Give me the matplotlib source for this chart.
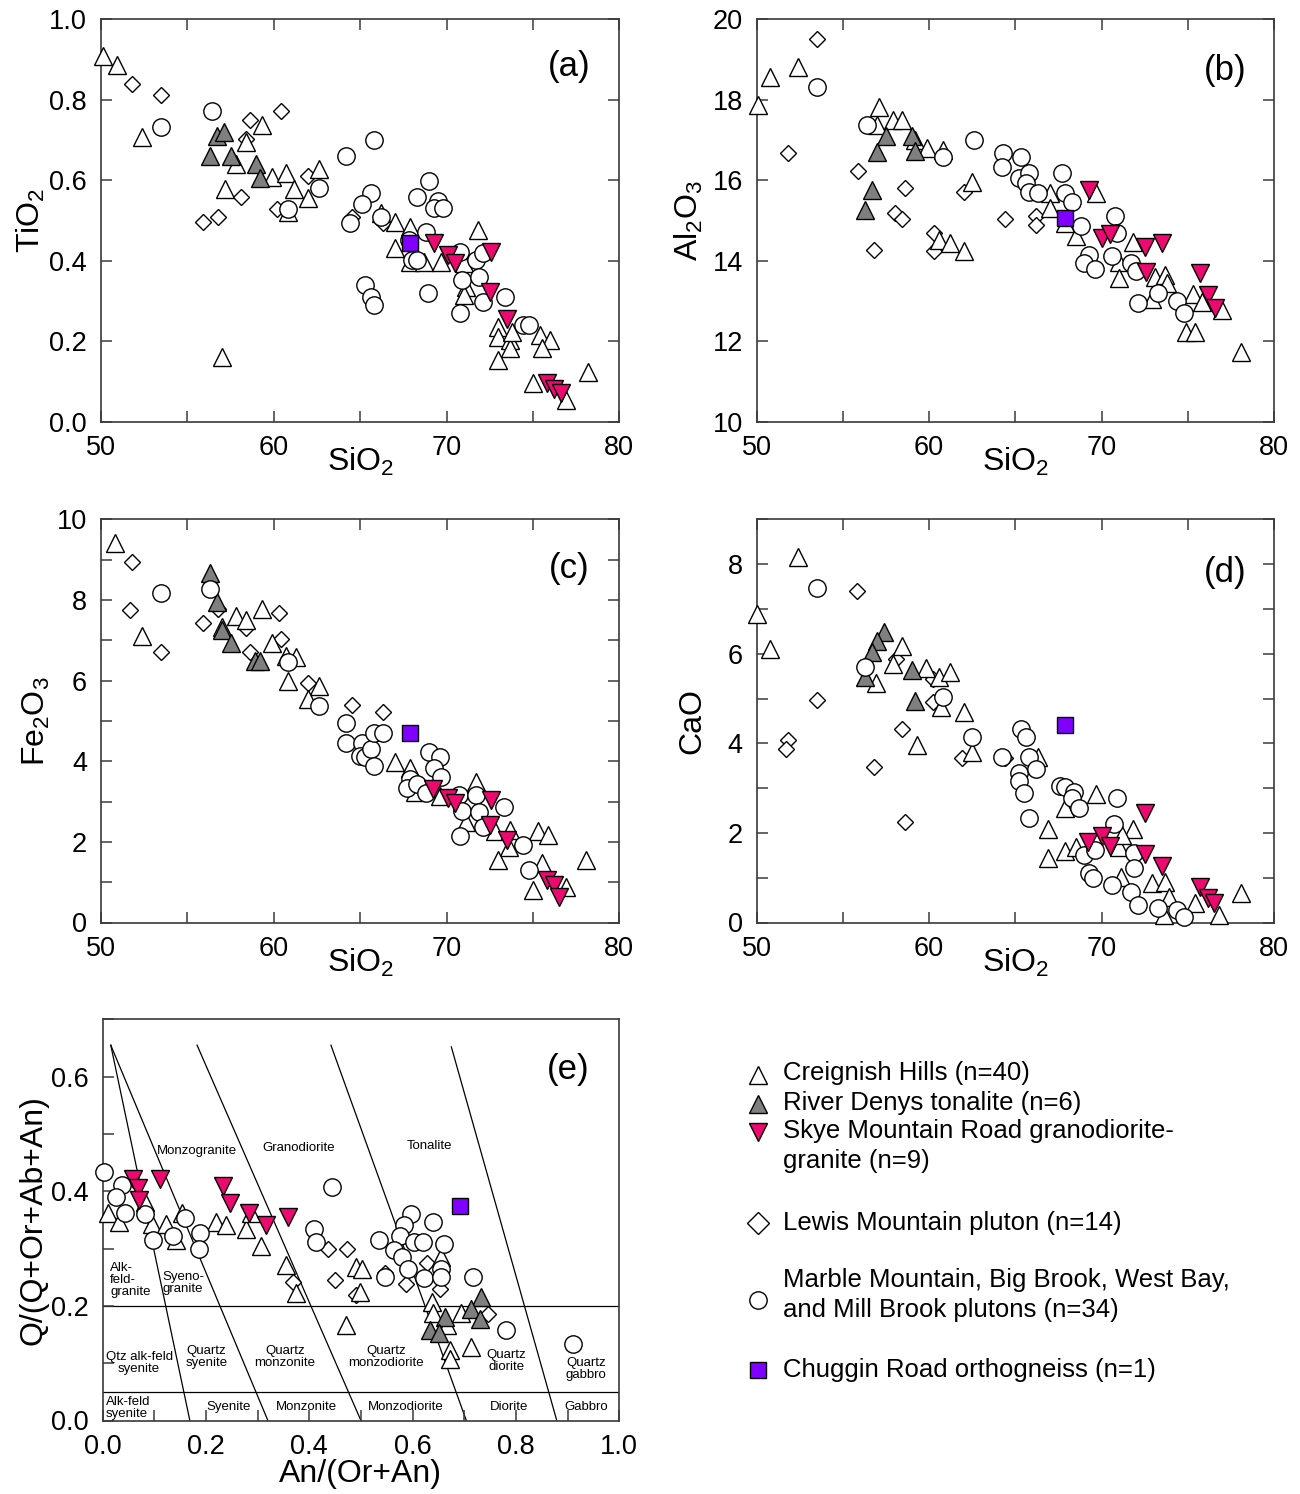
import matplotlib
matplotlib.use('Agg')
import matplotlib.pyplot as plt
from matplotlib.ticker import MultipleLocator, FuncFormatter

plt.rcParams['font.family'] = ['Liberation Sans', 'DejaVu Sans']
plt.rcParams['mathtext.default'] = 'regular'

# ---------------- data: panel (a) SiO2 vs TiO2 ----------------
a_ch_x = [50.1, 50.9, 52.4, 59.3, 58.4, 57.8, 59.9, 60.7, 62.6, 57.2, 61.2, 62.0, 60.8, 57.0, 66.2, 67.0, 67.9,
          67.0, 67.9, 68.7, 69.7, 71.8, 71.0, 71.1, 71.0, 73.0, 73.0, 73.7, 73.7, 73.0, 73.8, 75.4, 76.0, 75.5,
          75.0, 76.9, 78.2]
a_ch_y = [0.908, 0.887, 0.707, 0.738, 0.696, 0.640, 0.609, 0.617, 0.627, 0.578, 0.578, 0.555, 0.522, 0.161, 0.518,
          0.497, 0.484, 0.431, 0.397, 0.397, 0.397, 0.476, 0.393, 0.335, 0.314, 0.236, 0.211, 0.202, 0.182, 0.153,
          0.223, 0.215, 0.202, 0.182, 0.095, 0.053, 0.124]
a_rd_x = [56.7, 57.1, 56.3, 57.5, 59.0, 59.2]
a_rd_y = [0.709, 0.719, 0.659, 0.659, 0.641, 0.605]
a_sk_x = [69.3, 70.1, 70.5, 72.6, 72.5, 73.5, 75.8, 76.2, 76.6]
a_sk_y = [0.443, 0.414, 0.393, 0.422, 0.323, 0.254, 0.095, 0.082, 0.070]
a_lm_x = [51.8, 53.5, 58.6, 60.4, 58.4, 58.1, 55.9, 56.8, 60.2, 62.0, 64.5, 66.3]
a_lm_y = [0.840, 0.811, 0.750, 0.773, 0.702, 0.558, 0.497, 0.508, 0.528, 0.611, 0.509, 0.493]
a_mm_x = [56.4, 53.5, 62.6, 60.8, 64.2, 65.8, 65.6, 65.1, 64.4, 66.2, 69.0, 68.3, 69.5, 69.3, 69.8, 68.8, 67.8,
          68.0, 68.3, 65.3, 65.6, 65.8, 68.9, 70.8, 71.7, 72.1, 70.9, 71.9, 72.1, 73.4, 70.8, 74.4, 74.8]
a_mm_y = [0.771, 0.732, 0.580, 0.528, 0.659, 0.700, 0.569, 0.541, 0.493, 0.508, 0.599, 0.559, 0.549, 0.530, 0.530,
          0.472, 0.451, 0.402, 0.402, 0.339, 0.310, 0.290, 0.319, 0.422, 0.402, 0.418, 0.352, 0.360, 0.298, 0.309,
          0.269, 0.240, 0.240]
a_cr_x = [67.9]
a_cr_y = [0.443]

# ---------------- data: panel (b) SiO2 vs Al2O3 ----------------
b_ch_x = [50.1, 50.8, 52.4, 57.1, 57.0, 57.9, 58.4, 59.2, 59.9, 60.8, 62.5, 60.6, 61.2, 62.0, 67.0, 67.0, 67.9,
          68.5, 69.7, 71.8, 71.0, 71.0, 73.1, 73.7, 73.8, 72.9, 75.3, 75.8, 77.0, 74.9, 75.4, 78.1]
b_ch_y = [17.87, 18.56, 18.81, 17.81, 17.37, 17.50, 17.50, 17.00, 16.79, 16.75, 15.96, 14.51, 14.45, 14.24, 15.69,
          15.30, 14.93, 14.61, 15.69, 14.47, 13.97, 13.56, 13.60, 13.64, 13.45, 13.04, 13.18, 12.98, 12.77, 12.23,
          12.23, 11.73]
b_rd_x = [57.5, 59.0, 57.0, 59.2, 56.7, 56.3]
b_rd_y = [17.10, 17.10, 16.71, 16.73, 15.75, 15.27]
b_sk_x = [69.3, 70.0, 70.5, 72.5, 73.5, 72.6, 75.7, 76.2, 76.6]
b_sk_y = [15.75, 14.55, 14.66, 14.33, 14.44, 13.72, 13.68, 13.14, 12.81]
b_lm_x = [53.5, 51.8, 55.9, 58.6, 58.0, 58.4, 56.8, 62.0, 60.3, 60.3, 64.4, 66.2, 66.2]
b_lm_y = [19.50, 16.67, 16.23, 15.80, 15.19, 15.03, 14.26, 15.71, 14.69, 14.24, 15.03, 15.11, 14.88]
b_mm_x = [53.5, 56.4, 60.8, 62.6, 64.3, 64.2, 65.3, 65.2, 65.8, 65.6, 65.8, 66.3, 67.7, 67.9, 68.3, 68.8, 69.3,
          69.0, 69.6, 70.8, 70.9, 70.6, 71.7, 72.0, 72.1, 73.3, 74.4, 74.8]
b_mm_y = [18.32, 17.37, 16.58, 17.00, 16.68, 16.32, 16.57, 16.05, 16.17, 15.92, 15.71, 15.69, 16.18, 15.69, 15.46,
          14.86, 14.14, 13.95, 13.78, 15.11, 14.69, 14.11, 13.93, 13.75, 12.95, 13.20, 13.00, 12.69]
b_cr_x = [67.9]
b_cr_y = [15.07]

# ---------------- data: panel (c) SiO2 vs Fe2O3 ----------------
c_ch_x = [50.8, 52.4, 59.3, 57.8, 58.4, 57.0, 59.9, 60.7, 61.3, 60.8, 62.6, 62.0, 67.0, 67.9, 68.2, 69.6, 71.7,
          71.1, 72.8, 73.7, 73.6, 73.0, 75.3, 75.9, 75.5, 75.0, 76.9, 78.1]
c_ch_y = [9.41, 7.10, 7.78, 7.60, 7.50, 7.33, 6.92, 6.60, 6.59, 5.98, 5.86, 5.54, 3.99, 3.83, 3.24, 3.14, 3.49,
          2.50, 2.27, 2.29, 1.88, 1.54, 2.27, 2.17, 1.48, 0.80, 0.88, 1.56]
c_rd_x = [56.3, 56.7, 57.0, 57.5, 58.9, 59.2]
c_rd_y = [8.66, 7.95, 7.25, 6.94, 6.48, 6.48]
c_sk_x = [69.2, 70.1, 70.5, 72.6, 72.5, 73.5, 75.8, 76.2, 76.5]
c_sk_y = [3.30, 3.10, 2.97, 3.05, 2.42, 2.04, 1.05, 0.92, 0.63]
c_lm_x = [51.8, 51.7, 53.5, 55.9, 56.8, 58.4, 60.3, 60.4, 58.6, 62.0, 64.5, 66.3]
c_lm_y = [8.94, 7.76, 6.70, 7.43, 7.78, 7.31, 7.68, 7.02, 6.70, 5.94, 5.40, 5.23]
c_mm_x = [53.5, 56.3, 60.8, 62.6, 64.2, 64.2, 65.1, 65.0, 65.3, 65.6, 65.8, 66.3, 65.8, 69.0, 69.6, 69.3, 69.7,
          67.9, 67.7, 68.3, 68.8, 70.7, 71.7, 70.9, 71.9, 72.1, 73.3, 70.8, 74.4, 74.8]
c_mm_y = [8.16, 8.28, 6.45, 5.38, 4.96, 4.45, 4.45, 4.13, 4.10, 4.30, 4.71, 4.71, 3.87, 4.24, 4.11, 3.83, 3.62,
          3.55, 3.33, 3.44, 3.22, 3.16, 3.16, 2.77, 2.75, 2.37, 2.87, 2.14, 1.92, 1.30]
c_cr_x = [67.9]
c_cr_y = [4.71]

# ---------------- data: panel (d) SiO2 vs CaO ----------------
d_ch_x = [52.4, 50.0, 50.8, 58.4, 57.9, 56.9, 59.8, 60.6, 61.2, 60.7, 62.0, 59.3, 62.5, 66.3, 69.7, 67.9, 66.9,
          66.9, 67.9, 68.5, 71.0, 71.8, 71.2, 72.9, 73.7, 73.9, 73.6, 75.4, 76.8, 78.1, 71.1]
d_ch_y = [8.15, 6.88, 6.11, 6.18, 5.78, 5.35, 5.69, 5.49, 5.59, 4.81, 4.70, 3.96, 3.81, 3.70, 2.87, 2.55, 2.08,
          1.43, 1.60, 1.69, 1.69, 2.08, 1.95, 0.88, 0.91, 0.58, 0.17, 0.43, 0.17, 0.65, 1.02]
d_rd_x = [57.4, 57.0, 56.7, 56.3, 59.0, 59.2]
d_rd_y = [6.48, 6.28, 6.04, 5.47, 5.64, 4.94]
d_sk_x = [72.5, 69.2, 70.0, 70.5, 72.5, 73.5, 75.7, 76.2, 76.5]
d_sk_y = [2.44, 1.80, 1.92, 1.71, 1.53, 1.26, 0.80, 0.54, 0.43]
d_lm_x = [55.8, 53.5, 51.8, 51.7, 58.4, 56.8, 58.6, 58.1, 60.2, 60.2, 61.9, 64.4]
d_lm_y = [7.41, 4.96, 4.08, 3.88, 4.33, 3.46, 2.25, 5.89, 5.44, 4.92, 3.68, 3.68]
d_mm_x = [53.5, 56.3, 60.8, 62.5, 64.2, 65.3, 65.6, 65.8, 65.2, 66.2, 65.2, 65.5, 65.8, 67.6, 67.9, 68.4, 68.3,
          68.7, 70.9, 70.7, 69.0, 69.6, 69.3, 69.5, 70.6, 71.9, 71.9, 71.7, 72.1, 73.3, 74.4, 74.8]
d_mm_y = [7.47, 5.70, 5.03, 4.14, 3.70, 4.33, 4.13, 3.70, 3.33, 3.42, 3.16, 2.90, 2.33, 3.04, 3.03, 2.92, 2.77,
          2.55, 2.77, 2.20, 1.51, 1.62, 1.10, 0.99, 0.84, 1.55, 1.21, 0.69, 0.39, 0.32, 0.28, 0.13]
d_cr_x = [67.9]
d_cr_y = [4.40]

# ---------------- data: panel (e) An/(Or+An) vs Q/(Q+Or+Ab+An) ----------------
e_ch_x = [0.011, 0.031, 0.082, 0.095, 0.123, 0.143, 0.153, 0.219, 0.239, 0.278, 0.288, 0.307, 0.356, 0.374,
          0.472, 0.499, 0.491, 0.502, 0.638, 0.640, 0.667, 0.694, 0.673, 0.673, 0.714, 0.655]
e_ch_y = [0.362, 0.347, 0.382, 0.343, 0.343, 0.315, 0.362, 0.347, 0.341, 0.335, 0.362, 0.304, 0.271, 0.223,
          0.167, 0.225, 0.268, 0.265, 0.207, 0.187, 0.167, 0.187, 0.123, 0.108, 0.129, 0.286]
e_rd_x = [0.733, 0.714, 0.730, 0.662, 0.633, 0.651]
e_rd_y = [0.216, 0.194, 0.178, 0.181, 0.158, 0.152]
e_sk_x = [0.059, 0.069, 0.071, 0.112, 0.233, 0.247, 0.283, 0.317, 0.359]
e_sk_y = [0.421, 0.405, 0.385, 0.421, 0.409, 0.380, 0.362, 0.341, 0.355]
e_lm_x = [0.368, 0.436, 0.474, 0.449, 0.491, 0.546, 0.627, 0.587, 0.653, 0.745]
e_lm_y = [0.242, 0.300, 0.299, 0.245, 0.219, 0.257, 0.275, 0.239, 0.229, 0.186]
e_mm_x = [0.002, 0.037, 0.026, 0.044, 0.082, 0.098, 0.136, 0.160, 0.189, 0.187, 0.445, 0.409, 0.414, 0.597,
          0.583, 0.640, 0.535, 0.575, 0.602, 0.620, 0.660, 0.565, 0.580, 0.591, 0.623, 0.655, 0.655, 0.546,
          0.716, 0.780, 0.910]
e_mm_y = [0.434, 0.411, 0.390, 0.362, 0.360, 0.315, 0.322, 0.353, 0.327, 0.299, 0.408, 0.334, 0.312, 0.361,
          0.341, 0.347, 0.315, 0.322, 0.312, 0.312, 0.308, 0.297, 0.286, 0.264, 0.248, 0.265, 0.251, 0.250,
          0.250, 0.158, 0.133]
e_cr_x = [0.692]
e_cr_y = [0.375]

# classification field boundaries in panel (e): (x_top, y_top, x_bottom, y_bottom)
field_lines = [(0.016, 0.655, 0.169, 0.0),
               (0.016, 0.655, 0.320, 0.0),
               (0.183, 0.655, 0.500, 0.0),
               (0.442, 0.655, 0.704, 0.0),
               (0.675, 0.652, 0.879, 0.0)]
field_hlines = [0.2, 0.05]
field_labels = [("Monzogranite", 0.183, 0.471, 'center'),
                ("Granodiorite", 0.380, 0.475, 'center'),
                ("Tonalite", 0.632, 0.479, 'center'),
                ("Alk-\nfeld-\ngranite", 0.015, 0.245, 'left'),
                ("Syeno-\ngranite", 0.116, 0.240, 'left'),
                ("Qtz alk-feld\nsyenite", 0.071, 0.100, 'center'),
                ("Quartz\nsyenite", 0.201, 0.110, 'center'),
                ("Quartz\nmonzonite", 0.353, 0.110, 'center'),
                ("Quartz\nmonzodiorite", 0.549, 0.110, 'center'),
                ("Quartz\ndiorite", 0.781, 0.103, 'center'),
                ("Quartz\ngabbro", 0.936, 0.090, 'center'),
                ("Alk-feld\nsyenite", 0.007, 0.022, 'left'),
                ("Syenite", 0.244, 0.024, 'center'),
                ("Monzonite", 0.394, 0.024, 'center'),
                ("Monzodiorite", 0.587, 0.024, 'center'),
                ("Diorite", 0.787, 0.024, 'center'),
                ("Gabbro", 0.936, 0.024, 'center')]

series_names = ["Creignish Hills (n=40)", "River Denys tonalite (n=6)",
                "Skye Mountain Road granodiorite-\ngranite (n=9)", "Lewis Mountain pluton (n=14)",
                "Marble Mountain, Big Brook, West Bay,\nand Mill Brook plutons (n=34)",
                "Chuggin Road orthogneiss (n=1)"]

# ---------------- styles ----------------
PINK = '#EC0A70'
PURPLE = '#7F00FF'
GRAY = '#7f7f7f'
STY = {
    'ch': dict(marker='^', ms=12.5, mfc='white', z=4),
    'rd': dict(marker='^', ms=12.5, mfc=GRAY, z=5),
    'sk': dict(marker='v', ms=12.5, mfc=PINK, z=7),
    'lm': dict(marker='D', ms=8.6, mfc='white', z=3),
    'mm': dict(marker='o', ms=12.5, mfc='white', z=6),
    'cr': dict(marker='s', ms=12.0, mfc=PURPLE, z=8),
}
ORDER = ['ch', 'rd', 'sk', 'lm', 'mm', 'cr']
FRAME = '#3a3a3a'

W, H = 1300, 1494
fig = plt.figure(figsize=(W / 100, H / 100), dpi=100)


def ax_at(left, top, right, bottom):
    return fig.add_axes([left / W, 1 - bottom / H, (right - left) / W, (bottom - top) / H])


def draw(ax, data):
    for key, (xs, ys) in data.items():
        s = STY[key]
        ax.plot(xs, ys, ls='none', marker=s['marker'], ms=s['ms'], mfc=s['mfc'], mec='black',
                mew=1.0, zorder=s['z'], clip_on=False)


def step_fmt(step, fmt):
    def f(v, pos):
        r = v / step
        if abs(r - round(r)) < 1e-6:
            return fmt % v
        return ''
    return FuncFormatter(f)


def style(ax, xlim, ylim, xtick, xlab, xfmt, ytick, ylab, yfmt, mirror=True):
    ax.set_xlim(*xlim)
    ax.set_ylim(*ylim)
    ax.xaxis.set_major_locator(MultipleLocator(xtick))
    ax.yaxis.set_major_locator(MultipleLocator(ytick))
    ax.xaxis.set_major_formatter(step_fmt(xlab, xfmt))
    ax.yaxis.set_major_formatter(step_fmt(ylab, yfmt))
    ax.tick_params(direction='in', length=8, width=1.1, color=FRAME, labelsize=19.5,
                   top=mirror, right=mirror, pad=10)
    for sp in ax.spines.values():
        sp.set_color(FRAME)
        sp.set_linewidth(1.2)


def labels(ax, xl, yl, xl_y, yl_x):
    ax.set_xlabel(xl, fontsize=23)
    ax.set_ylabel(yl, fontsize=23)
    ax.xaxis.set_label_coords(0.5, xl_y)
    ax.yaxis.set_label_coords(yl_x, 0.5)


panel_lbl = dict(fontsize=25, ha='center', va='center')

# (a)
axA = ax_at(101, 19.3, 619.3, 421.5)
draw(axA, {'lm': (a_lm_x, a_lm_y), 'ch': (a_ch_x, a_ch_y), 'rd': (a_rd_x, a_rd_y),
           'mm': (a_mm_x, a_mm_y), 'sk': (a_sk_x, a_sk_y), 'cr': (a_cr_x, a_cr_y)})
style(axA, (50, 80), (0, 1.0), 5, 10, '%d', 0.2, 0.2, '%.1f')
labels(axA, 'SiO$_2$', 'TiO$_2$', -0.06, -0.105)
axA.text(0.903, 0.882, '(a)', transform=axA.transAxes, **panel_lbl)

# (b)
axB = ax_at(756.7, 19.3, 1274, 421.5)
draw(axB, {'lm': (b_lm_x, b_lm_y), 'ch': (b_ch_x, b_ch_y), 'rd': (b_rd_x, b_rd_y),
           'mm': (b_mm_x, b_mm_y), 'sk': (b_sk_x, b_sk_y), 'cr': (b_cr_x, b_cr_y)})
style(axB, (50, 80), (10, 20), 5, 10, '%d', 2, 2, '%d')
labels(axB, 'SiO$_2$', 'Al$_2$O$_3$', -0.06, -0.10)
axB.text(0.905, 0.872, '(b)', transform=axB.transAxes, **panel_lbl)

# (c)
axC = ax_at(101, 519.3, 619.3, 922.5)
draw(axC, {'lm': (c_lm_x, c_lm_y), 'ch': (c_ch_x, c_ch_y), 'rd': (c_rd_x, c_rd_y),
           'mm': (c_mm_x, c_mm_y), 'sk': (c_sk_x, c_sk_y), 'cr': (c_cr_x, c_cr_y)})
style(axC, (50, 80), (0, 10), 5, 10, '%d', 1, 2, '%d')
labels(axC, 'SiO$_2$', 'Fe$_2$O$_3$', -0.06, -0.095)
axC.text(0.904, 0.878, '(c)', transform=axC.transAxes, **panel_lbl)

# (d)
axD = ax_at(756.7, 519.3, 1274, 922.5)
draw(axD, {'lm': (d_lm_x, d_lm_y), 'ch': (d_ch_x, d_ch_y), 'rd': (d_rd_x, d_rd_y),
           'mm': (d_mm_x, d_mm_y), 'sk': (d_sk_x, d_sk_y), 'cr': (d_cr_x, d_cr_y)})
style(axD, (50, 80), (0, 9), 5, 10, '%d', 1, 2, '%d')
labels(axD, 'SiO$_2$', 'CaO', -0.06, -0.095)
axD.text(0.905, 0.868, '(d)', transform=axD.transAxes, **panel_lbl)

# (e)
axE = ax_at(102.5, 1019.4, 619.3, 1420.5)
for (x0, y0, x1, y1) in field_lines:
    axE.plot([x0, x1], [y0, y1], color='black', lw=0.9, zorder=1)
for yh in field_hlines:
    axE.axhline(yh, color='black', lw=0.9, zorder=1)
for (txt, tx, ty, ha) in field_labels:
    axE.text(tx, ty, txt, fontsize=9.5, ha=ha, va='center', linespacing=1.0, zorder=2)
draw(axE, {'lm': (e_lm_x, e_lm_y), 'ch': (e_ch_x, e_ch_y), 'rd': (e_rd_x, e_rd_y),
           'mm': (e_mm_x, e_mm_y), 'sk': (e_sk_x, e_sk_y), 'cr': (e_cr_x, e_cr_y)})
style(axE, (0, 1.0), (0, 0.7), 0.1, 0.2, '%.1f', 0.1, 0.2, '%.1f', mirror=False)
labels(axE, 'An/(Or+An)', 'Q/(Q+Or+Ab+An)', -0.095, -0.105)
axE.text(0.901, 0.876, '(e)', transform=axE.transAxes, **panel_lbl)

# ---------------- legend (placed in figure pixels) ----------------
leg_marker_y = [1075, 1103.5, 1131.7, 1222.7, 1300, 1369.5]
leg_text_y = [1073.3, 1102.7, 1146, 1222.7, 1295, 1370]
leg_ms = {'ch': 12.5, 'rd': 12.5, 'sk': 12.5, 'lm': 11.5, 'mm': 12.5, 'cr': 12.0}
for key, name, my, ty in zip(ORDER, series_names, leg_marker_y, leg_text_y):
    s = STY[key]
    fig.lines.append(plt.Line2D([758.3 / W], [1 - my / H], transform=fig.transFigure, ls='none',
                                marker=s['marker'], ms=leg_ms[key], mfc=s['mfc'], mec='black', mew=1.0))
    fig.text(783 / W, 1 - ty / H, name, fontsize=18.5, ha='left', va='center', linespacing=1.28)

fig.savefig('out.png', dpi=100)
